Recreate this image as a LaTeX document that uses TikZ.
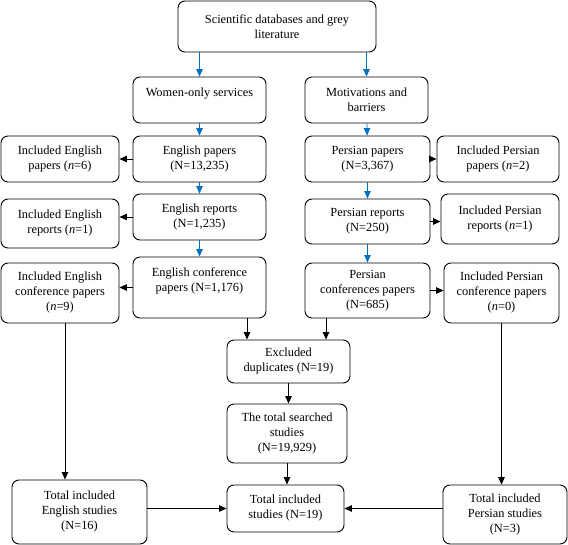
\documentclass[tikz,border=0pt]{standalone}
\usepackage{fontspec}
\setmainfont{Liberation Serif}
\usetikzlibrary{arrows.meta}
\definecolor{flowblue}{RGB}{0,112,192}

\begin{document}
\begin{tikzpicture}[x=1pt,y=-1pt,
		box/.style={draw=black, line width=0.9pt, rounded corners=7pt, align=center, inner sep=2pt,
			font=\fontsize{12.4}{15}\selectfont},
		arr/.style={line width=0.8pt, -{Triangle[length=7.5pt,width=6.5pt]}},
		bluearr/.style={arr, draw=flowblue}
		]
	\useasboundingbox (0,0) rectangle (568,545);

	\node[box, minimum width=198, minimum height=51] (search) at (277,26.5) {Scientific databases and grey\\literature};

	\node[box, minimum width=133, minimum height=46] (women) at (199.5,100) {Women-only services\\~};
	\node[box, minimum width=123, minimum height=46] (motiv) at (366.5,100) {Motivations and\\barriers};

	\node[box, minimum width=133, minimum height=46] (engpap) at (199.5,159) {English papers\\(N=13,235)};
	\node[box, minimum width=118, minimum height=46] (inengpap) at (60,159) {Included English\\papers (\textit{n}=6)};
	\node[box, minimum width=125, minimum height=46] (perpap) at (367.5,159) {Persian papers\\(N=3,367)};
	\node[box, minimum width=122, minimum height=46] (inperpap) at (498,159) {Included Persian\\papers (\textit{n}=2)};

	\node[box, minimum width=133, minimum height=46] (engrep) at (199.5,217) {English reports\\(N=1,235)};
	\node[box, minimum width=118, minimum height=49] (inengrep) at (60,223.5) {Included English\\reports (\textit{n}=1)};
	\node[box, minimum width=125, minimum height=45] (perrep) at (367.5,221.5) {Persian reports\\(N=250)};
	\node[box, minimum width=118, minimum height=50] (inperrep) at (500,219) {Included Persian\\reports (\textit{n}=1)};

	\node[box, minimum width=133, minimum height=61] (engconf) at (199.5,287.5) {English conference\\papers (N=1,176)\\~};
	\node[box, minimum width=118, minimum height=60] (inengconf) at (60,293) {Included English\\conference papers\\(\textit{n}=9)};
	\node[box, minimum width=125, minimum height=55] (perconf) at (367.5,290.5) {Persian\\conferences papers\\(N=685)};
	\node[box, minimum width=115, minimum height=60] (inperconf) at (501.5,293) {Included Persian\\conference papers\\(\textit{n}=0)};

	\node[box, minimum width=123, minimum height=43] (dupl) at (288.5,361.5) {Excluded\\duplicates (N=19)};
	\node[box, minimum width=120, minimum height=59] (searched) at (287,433.5) {The total searched\\studies\\(N=19,929)};
	\node[box, minimum width=117, minimum height=47] (total) at (285.5,508.5) {Total included\\studies (N=19)};
	\node[box, minimum width=135, minimum height=64] (toteng) at (79.5,512) {Total included\\English studies\\(N=16)};
	\node[box, minimum width=124, minimum height=59] (totper) at (505,514.5) {Total included\\Persian studies\\(N=3)};

	\draw[bluearr] (search.south -| women.north) -- (women.north);
	\draw[bluearr] (search.south -| motiv.north) -- (motiv.north);
	\draw[bluearr] (women) -- (engpap);
	\draw[bluearr] (engpap) -- (engrep);
	\draw[bluearr] (engrep) -- (engconf);
	\draw[bluearr] (motiv) -- (perpap);
	\draw[bluearr] (perpap) -- (perrep);
	\draw[bluearr] (perrep) -- (perconf);

	\draw[arr] (engpap.west) -- (inengpap.east);
	\draw[arr] (engrep.west) -- (engrep.west -| inengrep.east);
	\draw[arr] (engconf.west) -- (engconf.west -| inengconf.east);
	\draw[arr] (perpap.east) -- (inperpap.west);
	\draw[arr] (perrep.east) -- (perrep.east -| inperrep.west);
	\draw[arr] (perconf.east) -- (perconf.east -| inperconf.west);

	\draw[arr] ([xshift=47.5pt]engconf.south) -- ([xshift=47.5pt]engconf.south |- dupl.north);
	\draw[arr] ([xshift=-41.5pt]perconf.south) -- ([xshift=-41.5pt]perconf.south |- dupl.north);
	\draw[arr] (dupl.south) -- (dupl.south |- searched.north);
	\draw[arr] (searched.south) -- (searched.south |- total.north);
	\draw[arr] ([xshift=5pt]inengconf.south) -- ([xshift=5pt]inengconf.south |- toteng.north);
	\draw[arr] (inperconf.south) -- (inperconf.south |- totper.north);
	\draw[arr] (toteng.east |- total.west) -- (total.west);
	\draw[arr] (totper.west |- total.east) -- (total.east);
\end{tikzpicture}
\end{document}
